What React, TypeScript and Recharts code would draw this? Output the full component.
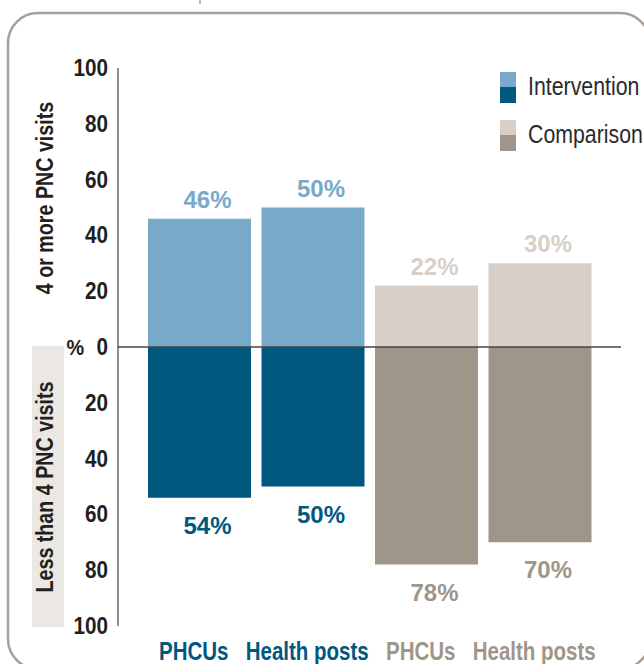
import React from "react";
import {
    BarChart,
    Bar,
    Cell,
    XAxis,
    YAxis,
    ReferenceLine,
    LabelList,
    Legend,
} from "recharts";

const categories = ["PHCUs", "Health posts", "PHCUs", "Health posts"];
const groups = ["Intervention", "Intervention", "Comparison", "Comparison"];
const fourOrMore = [46, 50, 22, 30];
const lessThanFour = [54, 50, 78, 70];
const yTicks = [-100, -80, -60, -40, -20, 0, 20, 40, 60, 80, 100];

const COLORS: Record<string, { light: string; dark: string }> = {
    Intervention: { light: "#79a9c8", dark: "#00587f" },
    Comparison: { light: "#d7cfc8", dark: "#a09589" },
};
const legendNames = ["Intervention", "Comparison"];

const SANS = "'Liberation Sans', Arial, sans-serif";
const INK = "#231f20";

const data = categories.map((name, i) => ({
    key: `${groups[i]}-${name}`,
    up: fourOrMore[i],
    down: -lessThanFour[i],
}));

// no narrow font installed, so squeeze Liberation Sans sideways
const Narrow = ({ x, y, rotate = 0, anchor = "start", size, weight = 400, fill, squeeze = 0.82, children }: any) => (
    <g transform={`translate(${x},${y}) rotate(${rotate}) scale(${squeeze},1)`}>
        <text x={0} y={0} textAnchor={anchor} fontFamily={SANS} fontWeight={weight} fontSize={size} fill={fill}>
            {children}
        </text>
    </g>
);

const YTick = (props: any) => {
    const { x, y, payload } = props;
    const v = payload.value;
    return (
        <g>
            {v === 0 && (
                <Narrow x={x - 24} y={y + 8} anchor="end" size={22} weight={700} squeeze={0.9} fill={INK}>
                    %
                </Narrow>
            )}
            <Narrow x={x} y={y + 8} anchor="end" size={23} weight={700} squeeze={0.9} fill={INK}>
                {Math.abs(v)}
            </Narrow>
        </g>
    );
};

const XTick = (props: any) => {
    const { x, y, payload } = props;
    const i = payload.index;
    return (
        <Narrow x={x - 6} y={y + 34} anchor="middle" size={25} weight={700} fill={COLORS[groups[i]].dark}>
            {categories[i]}
        </Narrow>
    );
};

// value labels: above the positive bars, below the negative ones
const makeLabel = (above: boolean) => (props: any) => {
    const { x, y, width, height, value, index } = props;
    const top = Math.min(y, y + height);
    const bottom = Math.max(y, y + height);
    const c = COLORS[groups[index]];
    return (
        <text
            x={x + width / 2 + 8}
            y={above ? top - 11 : bottom + 36}
            textAnchor="middle"
            fontFamily={SANS}
            fontWeight={700}
            fontSize={24}
            fill={above ? c.light : c.dark}
        >
            {Math.abs(value)}%
        </text>
    );
};

const renderLegend = () => (
    <svg width={150} height={90}>
        {legendNames.map((n, i) => (
            <g key={n}>
                <rect x={0} y={i * 48} width={16} height={15} fill={COLORS[n].light} />
                <rect x={0} y={i * 48 + 15} width={16} height={16} fill={COLORS[n].dark} />
                <Narrow x={28} y={i * 48 + 23} size={26} fill="#2a2a2a">
                    {n}
                </Narrow>
            </g>
        ))}
    </svg>
);

export default function App() {
    return (
        <div style={{ position: "absolute", left: 0, top: 0, width: 644, height: 664, overflow: "hidden", background: "#fff" }}>
            <svg width={644} height={664} style={{ position: "absolute", left: 0, top: 0 }}>
                <line x1={200} y1={0} x2={200} y2={4} stroke="#a99f96" strokeWidth={1.5} />
                <rect x={8} y={13} width={642} height={656} rx={30} ry={30} fill="none" stroke="#a99f96" strokeWidth={2.5} />
                <rect x={32} y={346} width={32} height={281} fill="#ebe7e2" />
                <Narrow x={53} y={198} rotate={-90} anchor="middle" size={24} weight={700} fill={INK}>
                    4 or more PNC visits
                </Narrow>
                <Narrow x={53} y={487} rotate={-90} anchor="middle" size={24} weight={700} fill={INK}>
                    Less than 4 PNC visits
                </Narrow>
            </svg>
            <div style={{ position: "absolute", left: 0, top: 0 }}>
                <BarChart
                    width={644}
                    height={664}
                    data={data}
                    stackOffset="sign"
                    margin={{ top: 68, right: 23, bottom: 8, left: 58 }}
                >
                    <XAxis
                        dataKey="key"
                        axisLine={false}
                        tickLine={false}
                        tickSize={0}
                        tickMargin={0}
                        height={30}
                        padding={{ left: 25, right: 24 }}
                        tick={<XTick />}
                        interval={0}
                    />
                    <YAxis
                        width={60}
                        domain={[-100, 100]}
                        ticks={yTicks}
                        tickLine={false}
                        tickSize={0}
                        tickMargin={10}
                        axisLine={{ stroke: "#222", strokeWidth: 1 }}
                        tick={<YTick />}
                        interval={0}
                    />
                    <Legend
                        layout="horizontal"
                        verticalAlign="middle"
                        align="center"
                        content={renderLegend}
                        wrapperStyle={{ left: 500, top: 72, width: 150, height: 90 }}
                    />
                    <Bar dataKey="up" stackId="a" barSize={103} isAnimationActive={false}>
                        {data.map((d, i) => (
                            <Cell key={`up-${i}`} fill={COLORS[groups[i]].light} />
                        ))}
                        <LabelList dataKey="up" content={makeLabel(true)} />
                    </Bar>
                    <Bar dataKey="down" stackId="a" barSize={103} isAnimationActive={false}>
                        {data.map((d, i) => (
                            <Cell key={`down-${i}`} fill={COLORS[groups[i]].dark} />
                        ))}
                        <LabelList dataKey="down" content={makeLabel(false)} />
                    </Bar>
                    <ReferenceLine y={0} stroke="#444" strokeWidth={1.5} />
                </BarChart>
            </div>
        </div>
    );
}
